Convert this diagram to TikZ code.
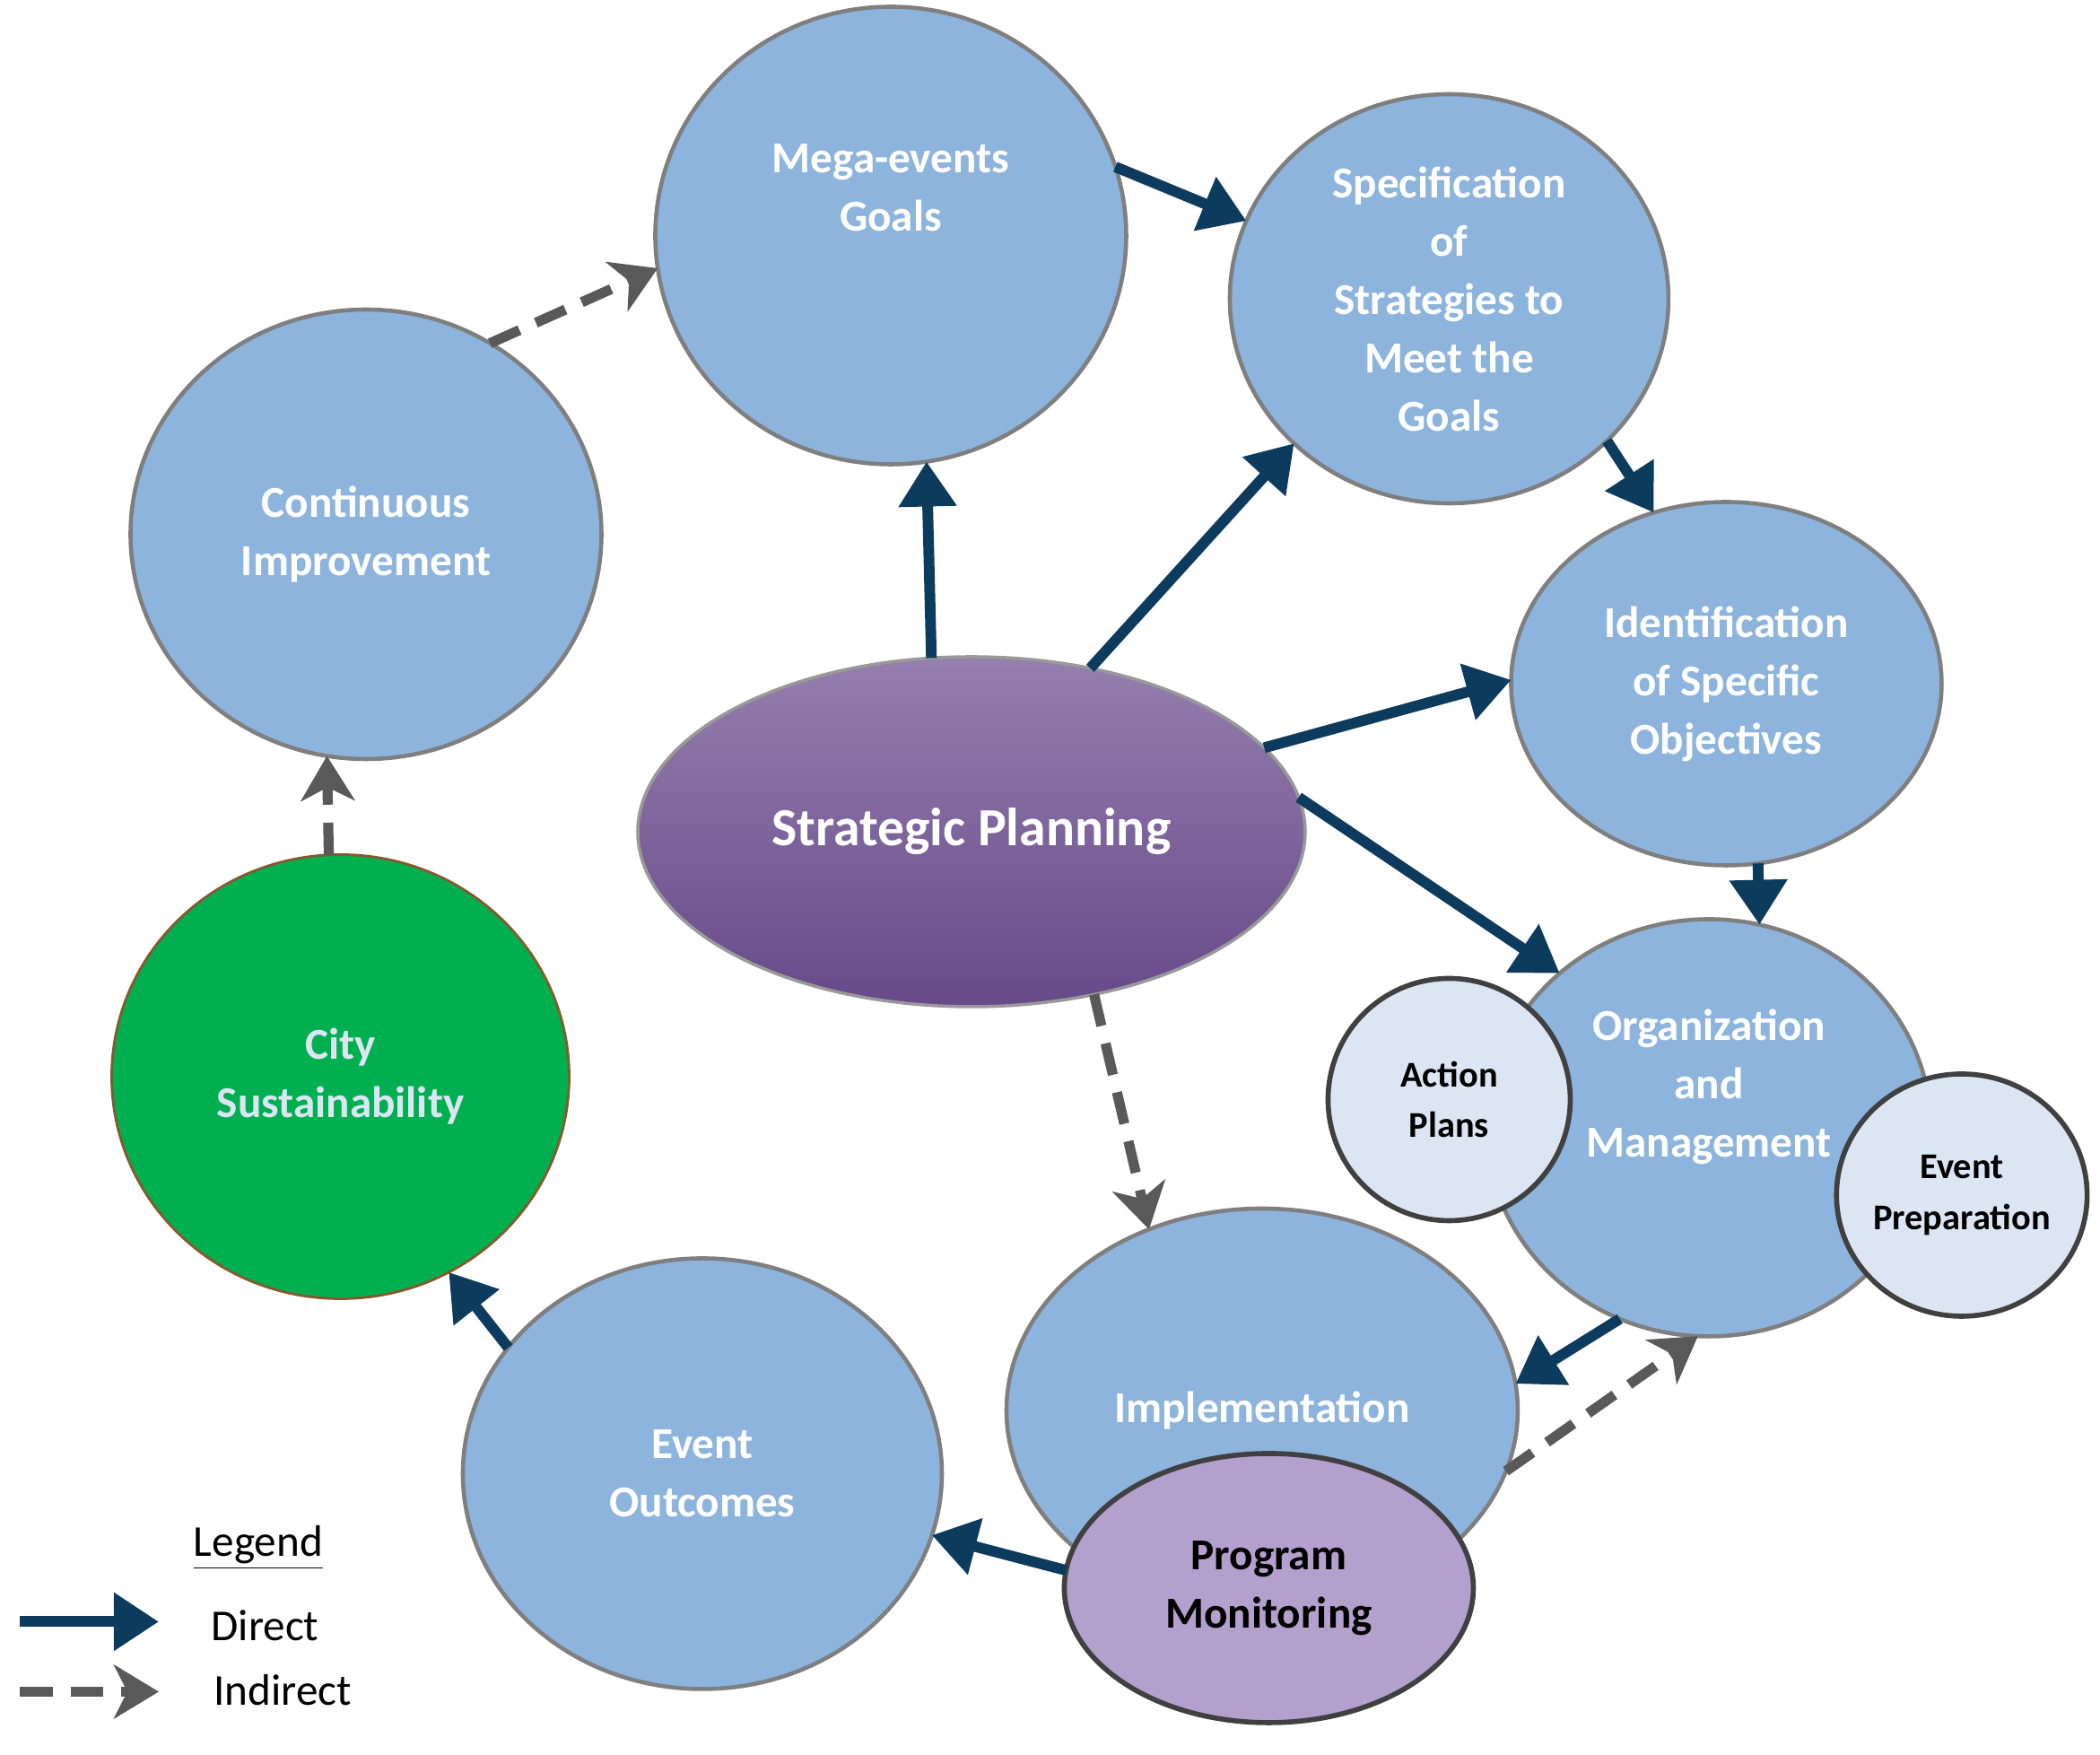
\documentclass[tikz,border=0pt]{standalone}
\usepackage{fontspec}
\setmainfont{Carlito}
\usetikzlibrary{shapes.geometric,arrows.meta}
\definecolor{cblue}{HTML}{8DB4DC}
\definecolor{cedge}{HTML}{7F7F7F}
\definecolor{navy}{HTML}{0D3B5E}
\definecolor{dgray}{HTML}{595959}
\definecolor{spurp}{HTML}{67498A}
\definecolor{lpurp}{HTML}{B4A0CC}
\definecolor{cgreen}{HTML}{00B050}
\definecolor{lblue}{HTML}{DCE6F2}
\begin{document}
\begin{tikzpicture}[x=0.015cm,y=-0.015cm,
  bub/.style={ellipse,draw=cedge,line width=1.3pt,fill=cblue,inner sep=0pt,outer sep=0pt,
    text=white,font=\bfseries\fontsize{14}{18.5}\selectfont,align=center},
  small/.style={ellipse,draw=black!75,line width=1.6pt,fill=lblue,inner sep=0pt,outer sep=0pt,
    text=black,font=\bfseries\fontsize{11.5}{16}\selectfont,align=center,minimum size=180*0.015cm},
  dir/.style={draw=navy,line width=3.4pt,-{Triangle[length=0.5cm,width=0.62cm]},shorten >=0pt},
  ind/.style={draw=dgray,line width=3.2pt,dash pattern=on 0.36cm off 0.2cm,-{Stealth[length=0.5cm,width=0.6cm,inset=0.15cm]}}]
\useasboundingbox (0,0) rectangle (1560.7,1304);
\node[bub,minimum width=350*0.015cm,minimum height=340*0.015cm] (mega) at (662,175) {Mega-events\\Goals\\[12pt]};
\node[bub,minimum width=326*0.015cm,minimum height=304*0.015cm] (spec) at (1077,222) {Specification\\of\\Strategies to\\Meet the\\Goals};
\node[bub,minimum width=350*0.015cm,minimum height=334*0.015cm] (cont) at (272,397) {Continuous\\Improvement};
\node[bub,minimum width=320*0.015cm,minimum height=270*0.015cm] (ident) at (1283,508) {Identification\\of Specific\\Objectives};
\node[ellipse,draw=cedge!80,line width=1pt,top color=spurp!70!white,bottom color=spurp,middle color=spurp!85!white,
  minimum width=496*0.015cm,minimum height=260*0.015cm,inner sep=0pt,outer sep=0pt,
  text=white,font=\bfseries\fontsize{17}{20}\selectfont] (sp) at (722,618) {Strategic Planning};
\node[ellipse,draw=brown!70!black,line width=0.8pt,fill=cgreen,minimum width=340*0.015cm,minimum height=330*0.015cm,
  inner sep=0pt,outer sep=0pt,text=lblue,font=\bfseries\fontsize{14}{18.5}\selectfont,align=center] (city) at (253,800) {City\\Sustainability};
\node[bub,minimum width=330*0.015cm,minimum height=310*0.015cm] (org) at (1270,838) {Organization\\and\\Management\\[10pt]};
\node[small] (act) at (1077,817) {Action\\Plans};
\node[small] (prep) at (1458,888) {Event\\Preparation};
\node[bub,minimum width=380*0.015cm,minimum height=300*0.015cm] (impl) at (938,1048) {Implementation};
\node[ellipse,draw=black!75,line width=1.6pt,fill=lpurp,minimum width=304*0.015cm,minimum height=200*0.015cm,
  inner sep=0pt,outer sep=0pt,text=black,font=\bfseries\fontsize{14}{18.5}\selectfont,align=center] (pm) at (943,1180) {Program\\Monitoring};
\node[bub,minimum width=356*0.015cm,minimum height=320*0.015cm] (eo) at (522,1095) {Event\\Outcomes};
% connectors
\draw[ind] (cont.57) -- (mega.188);
\draw[dir] (mega.17) -- (spec.159);
\draw[dir] (sp.103) -- (mega.279);
\draw[dir] (sp.54) -- (spec.223);
\draw[dir] (spec.318) -- (ident.113);
\draw[dir] (sp.16) -- (ident.179);
\draw[dir] (sp.6) -- (org.134);
\draw[dir] (ident.280) -- (org.76);
\draw[ind] (sp.307) -- (impl.122);
\draw[dir] (org.245) -- (impl.6);
\draw[ind] (impl.346) -- (org.267);
\draw[dir] (pm.175) -- (eo.345);
\draw[dir] (eo.147) -- (city.299);
\draw[ind] (city.93) -- (cont.260);
% legend
\node[font=\fontsize{14}{17}\selectfont] (leg) at (192,1150) {\underline{Legend}};
\coordinate (d1) at (15,1205); \coordinate (d2) at (118,1205);
\coordinate (i1) at (15,1257); \coordinate (i2) at (118,1257);
\draw[dir] (d1) -- (d2);
\draw[ind] (i1) -- (i2);
\node[font=\fontsize{14}{17}\selectfont] (ldir) at (197,1208) {Direct};
\node[font=\fontsize{14}{17}\selectfont] (lind) at (210,1256) {Indirect};
\end{tikzpicture}
\end{document}
